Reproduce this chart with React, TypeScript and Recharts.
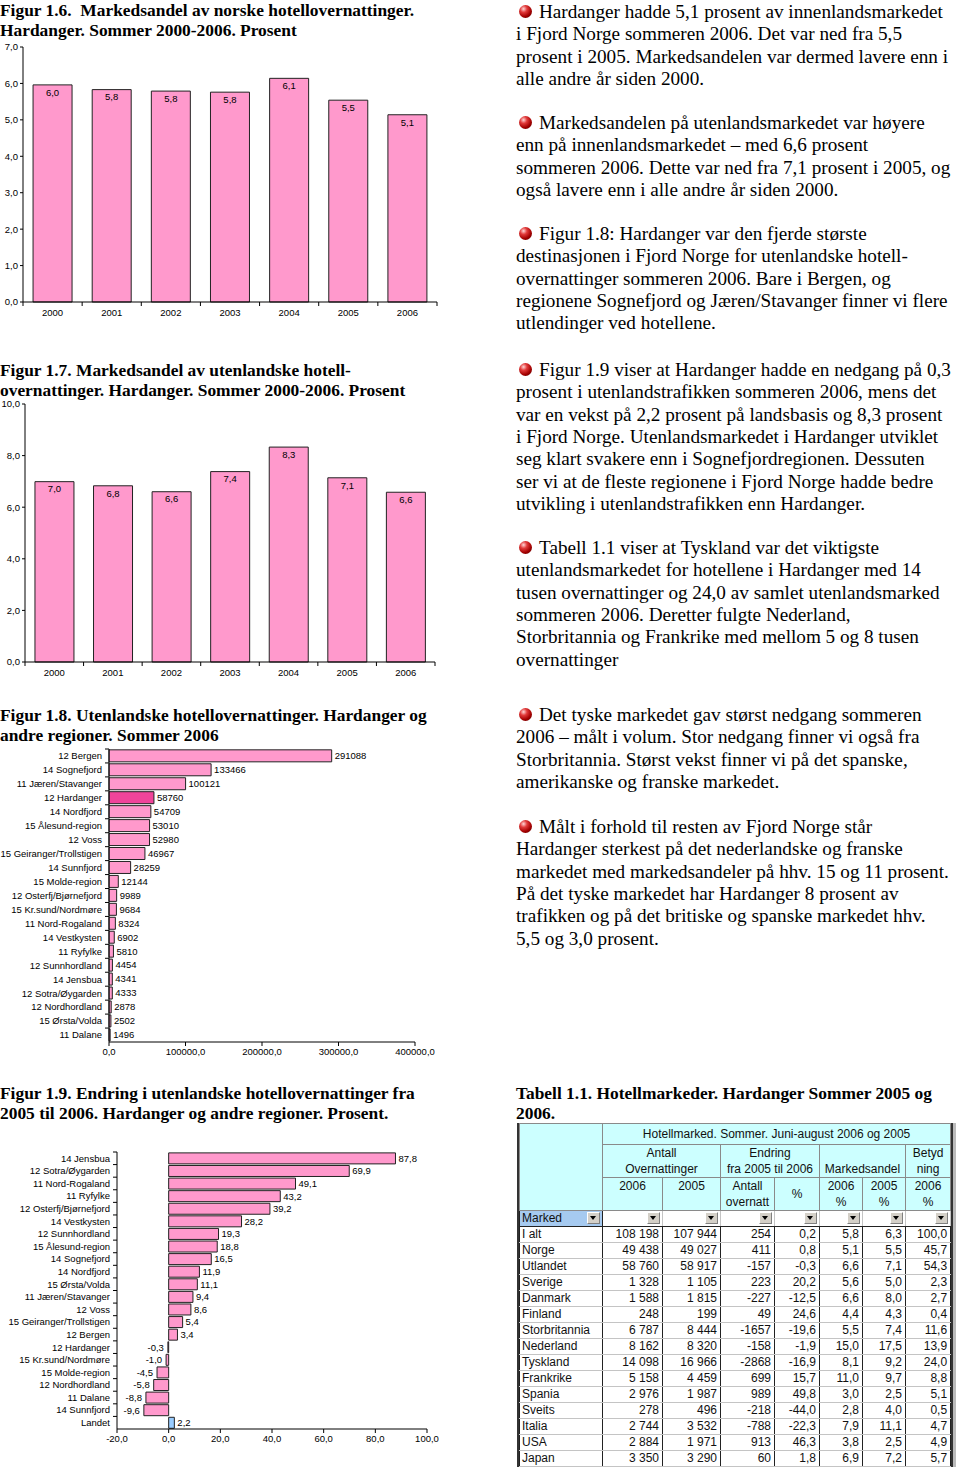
import React from "react";
import { BarChart, Bar, XAxis, YAxis, LabelList, Cell } from "recharts";

const SANS = "'Liberation Sans', Arial, sans-serif";
const SERIF = "'Liberation Serif', 'Times New Roman', serif";

// Figur 1.6 / 1.7
const years = ["2000", "2001", "2002", "2003", "2004", "2005", "2006"];
const norskShare = [5.96, 5.83, 5.79, 5.76, 6.14, 5.54, 5.14];
const utenlandskShare = [6.99, 6.83, 6.6, 7.38, 8.33, 7.14, 6.58];
const share16Ticks = [0, 1, 2, 3, 4, 5, 6, 7];
const share17Ticks = [0, 2, 4, 6, 8, 10];

// Figur 1.8
const regions18 = [
  "12 Bergen", "14 Sognefjord", "11 Jæren/Stavanger", "12 Hardanger", "14 Nordfjord",
  "15 Ålesund-region", "12 Voss", "15 Geiranger/Trollstigen", "14 Sunnfjord", "15 Molde-region",
  "12 Osterfj/Bjørnefjord", "15 Kr.sund/Nordmøre", "11 Nord-Rogaland", "14 Vestkysten", "11 Ryfylke",
  "12 Sunnhordland", "14 Jensbua", "12 Sotra/Øygarden", "12 Nordhordland", "15 Ørsta/Volda", "11 Dalane",
];
const nights18 = [
  291088, 133466, 100121, 58760, 54709, 53010, 52980, 46967, 28259, 12144,
  9989, 9684, 8324, 6902, 5810, 4454, 4341, 4333, 2878, 2502, 1496,
];
const nights18Ticks = [0, 100000, 200000, 300000, 400000];

// Figur 1.9
const regions19 = [
  "14 Jensbua", "12 Sotra/Øygarden", "11 Nord-Rogaland", "11 Ryfylke", "12 Osterfj/Bjørnefjord",
  "14 Vestkysten", "12 Sunnhordland", "15 Ålesund-region", "14 Sognefjord", "14 Nordfjord",
  "15 Ørsta/Volda", "11 Jæren/Stavanger", "12 Voss", "15 Geiranger/Trollstigen", "12 Bergen",
  "12 Hardanger", "15 Kr.sund/Nordmøre", "15 Molde-region", "12 Nordhordland", "11 Dalane",
  "14 Sunnfjord", "Landet",
];
const change19 = [
  87.8, 69.9, 49.1, 43.2, 39.2, 28.2, 19.3, 18.8, 16.5, 11.9, 11.1,
  9.4, 8.6, 5.4, 3.4, -0.3, -1.0, -4.5, -5.8, -8.8, -9.6, 2.2,
];
const change19Ticks = [-20, 0, 20, 40, 60, 80, 100];

// Tabell 1.1
const markets = [
  "I alt", "Norge", "Utlandet", "Sverige", "Danmark", "Finland", "Storbritannia", "Nederland",
  "Tyskland", "Frankrike", "Spania", "Sveits", "Italia", "USA", "Japan",
];
const nights2006 = [108198, 49438, 58760, 1328, 1588, 248, 6787, 8162, 14098, 5158, 2976, 278, 2744, 2884, 3350];
const nights2005 = [107944, 49027, 58917, 1105, 1815, 199, 8444, 8320, 16966, 4459, 1987, 496, 3532, 1971, 3290];
const changeAbs = [254, 411, -157, 223, -227, 49, -1657, -158, -2868, 699, 989, -218, -788, 913, 60];
const changePct = [0.2, 0.8, -0.3, 20.2, -12.5, 24.6, -19.6, -1.9, -16.9, 15.7, 49.8, -44.0, -22.3, 46.3, 1.8];
const share2006 = [5.8, 5.1, 6.6, 5.6, 6.6, 4.4, 5.5, 15.0, 8.1, 11.0, 3.0, 2.8, 7.9, 3.8, 6.9];
const share2005 = [6.3, 5.5, 7.1, 5.0, 8.0, 4.3, 7.4, 17.5, 9.2, 9.7, 2.5, 4.0, 11.1, 2.5, 7.2];
const weight2006 = [100.0, 45.7, 54.3, 2.3, 2.7, 0.4, 11.6, 13.9, 24.0, 8.8, 5.1, 0.5, 4.7, 4.9, 5.7];

// text column
const paragraphs = [
  { y: 12, lines: ["Hardanger hadde 5,1 prosent av innenlandsmarkedet", "i Fjord Norge sommeren 2006. Det var ned fra 5,5", "prosent i 2005. Markedsandelen var dermed lavere enn i", "alle andre år siden 2000."] },
  { y: 123, lines: ["Markedsandelen på utenlandsmarkedet var høyere", "enn på innenlandsmarkedet – med 6,6 prosent", "sommeren 2006. Dette var ned fra 7,1 prosent i 2005, og", "også lavere enn i alle andre år siden 2000."] },
  { y: 234, lines: ["Figur 1.8: Hardanger var den fjerde største", "destinasjonen i Fjord Norge for utenlandske hotell-", "overnattinger sommeren 2006. Bare i Bergen, og", "regionene Sognefjord og Jæren/Stavanger finner vi flere", "utlendinger ved hotellene."] },
  { y: 370, lines: ["Figur 1.9 viser at Hardanger hadde en nedgang på 0,3", "prosent i utenlandstrafikken sommeren 2006, mens det", "var en vekst på 2,2 prosent på landsbasis og 8,3 prosent", "i Fjord Norge. Utenlandsmarkedet i Hardanger utviklet", "seg klart svakere enn i Sognefjordregionen. Dessuten", "ser vi at de fleste regionene i Fjord Norge hadde bedre", "utvikling i utenlandstrafikken enn Hardanger."] },
  { y: 548, lines: ["Tabell 1.1 viser at Tyskland var det viktigste", "utenlandsmarkedet for hotellene i Hardanger med 14", "tusen overnattinger og 24,0 av samlet utenlandsmarked", "sommeren 2006. Deretter fulgte Nederland,", "Storbritannia og Frankrike med mellom 5 og 8 tusen", "overnattinger"] },
  { y: 715, lines: ["Det tyske markedet gav størst nedgang sommeren", "2006 – målt i volum. Stor nedgang finner vi også fra", "Storbritannia. Størst vekst finner vi på det spanske,", "amerikanske og franske markedet."] },
  { y: 827, lines: ["Målt i forhold til resten av Fjord Norge står", "Hardanger sterkest på det nederlandske og franske", "markedet med markedsandeler på hhv. 15 og 11 prosent.", "På det tyske markedet har Hardanger 8 prosent av", "trafikken og på det britiske og spanske markedet hhv.", "5,5 og 3,0 prosent."] },
];

const titles = [
  { x: 0, y: 0, lines: ["Figur 1.6.  Markedsandel av norske hotellovernattinger.", "Hardanger. Sommer 2000-2006. Prosent"] },
  { x: 0, y: 360, lines: ["Figur 1.7. Markedsandel av utenlandske hotell-", "overnattinger. Hardanger. Sommer 2000-2006. Prosent"] },
  { x: 0, y: 705, lines: ["Figur 1.8. Utenlandske hotellovernattinger. Hardanger og", "andre regioner. Sommer 2006"] },
  { x: 0, y: 1083, lines: ["Figur 1.9. Endring i utenlandske hotellovernattinger fra", "2005 til 2006. Hardanger og andre regioner. Prosent."] },
  { x: 516, y: 1083, lines: ["Tabell 1.1. Hotellmarkeder. Hardanger Sommer 2005 og", "2006."] },
];

const fmt = (v: number, d = 1) => v.toFixed(d).replace(".", ",");
const grp = (v: number) => String(v).replace(/\B(?=(\d{3})+(?!\d))/g, " ");

type Margin = { top: number; right: number; bottom: number; left: number };

function ColumnChart(props: {
  values: number[];
  top: number;
  width: number;
  height: number;
  margin: Margin;
  yWidth: number;
  xHeight: number;
  domain: [number, number];
  ticks: number[];
}) {
  const { values, top, width, height, margin, yWidth, xHeight, domain, ticks } = props;
  const data = years.map((name, i) => ({ name, value: values[i] }));
  const band = (width - margin.left - margin.right - yWidth) / data.length;

  const xTick = (p: any) => {
    const ay = p.y - 7;
    const bx = p.x - band / 2;
    return (
      <g>
        <line x1={bx} x2={bx} y1={ay} y2={ay + 4} stroke="#000" />
        {p.index === data.length - 1 && <line x1={bx + band} x2={bx + band} y1={ay} y2={ay + 4} stroke="#000" />}
        <text x={p.x} y={p.y} dy="0.71em" textAnchor="middle" fontSize={9.5} fill="#000" fontFamily={SANS}>
          {p.payload.value}
        </text>
      </g>
    );
  };

  return (
    <div style={{ position: "absolute", left: 0, top }}>
      <BarChart width={width} height={height} data={data} margin={margin} barCategoryGap="17%">
        <XAxis
          dataKey="name"
          height={xHeight}
          interval={0}
          tickLine={false}
          tickSize={4}
          tickMargin={3}
          tick={xTick}
          axisLine={{ stroke: "#000" }}
        />
        <YAxis
          width={yWidth}
          domain={domain}
          ticks={ticks}
          interval={0}
          tickFormatter={(v: number) => fmt(v)}
          tickSize={3}
          tickMargin={2}
          tick={{ fontSize: 9.5, fill: "#000", fontFamily: SANS }}
          axisLine={{ stroke: "#000" }}
          tickLine={{ stroke: "#000" }}
        />
        <Bar dataKey="value" fill="#ff99cc" stroke="#222" strokeWidth={1} isAnimationActive={false}>
          <LabelList
            dataKey="value"
            position="insideTop"
            offset={4}
            formatter={(v: any) => fmt(Number(v))}
            fontSize={9.5}
            fill="#000"
            fontFamily={SANS}
          />
        </Bar>
      </BarChart>
    </div>
  );
}

function catTick(band: number) {
  return (p: any) => {
    const ax = p.x + 7;
    const by = p.y - band / 2;
    return (
      <g>
        <line x1={ax - 4} x2={ax} y1={by} y2={by} stroke="#000" />
        <text x={p.x} y={p.y} dy="0.355em" textAnchor="end" fontSize={9.5} fill="#000" fontFamily={SANS}>
          {p.payload.value}
        </text>
      </g>
    );
  };
}

function NightsChart() {
  const data = regions18.map((name, i) => ({ name, value: nights18[i] }));
  const W = 440, H = 325;
  const m = { top: 7, right: 25, bottom: 0, left: 0 };
  const band = (H - m.top - m.bottom - 25) / data.length;
  return (
    <div style={{ position: "absolute", left: 0, top: 742 }}>
      <BarChart layout="vertical" width={W} height={H} data={data} margin={m} barCategoryGap="6%">
        <XAxis
          type="number"
          domain={[0, 400000]}
          ticks={nights18Ticks}
          interval={0}
          height={25}
          tickFormatter={(v: number) => fmt(v)}
          tickSize={4}
          tick={{ fontSize: 9.5, fill: "#000", fontFamily: SANS }}
          axisLine={{ stroke: "#000" }}
          tickLine={{ stroke: "#000" }}
        />
        <YAxis
          type="category"
          dataKey="name"
          width={109}
          interval={0}
          tickLine={false}
          tickSize={4}
          tickMargin={3}
          tick={catTick(band)}
          axisLine={{ stroke: "#000" }}
        />
        <Bar dataKey="value" stroke="#222" strokeWidth={1} isAnimationActive={false}>
          {data.map((d) => (
            <Cell key={d.name} fill={d.name === "12 Hardanger" ? "#f0449a" : "#ff99cc"} />
          ))}
          <LabelList dataKey="value" position="right" offset={3} fontSize={9.5} fill="#000" fontFamily={SANS} />
        </Bar>
      </BarChart>
    </div>
  );
}

const ChangeLabel = (p: any) => {
  const vb = p.viewBox && typeof p.viewBox.x === "number" ? p.viewBox : p;
  const x = Number(vb.x), w = Number(vb.width), y = Number(vb.y), h = Number(vb.height);
  const v = Number(p.value);
  const end = v >= 0 ? Math.max(x, x + w) : Math.min(x, x + w);
  return (
    <text
      x={v >= 0 ? end + 3 : end - 4}
      y={y + h / 2}
      dy="0.355em"
      textAnchor={v >= 0 ? "start" : "end"}
      fontSize={9.5}
      fill="#000"
      fontFamily={SANS}
    >
      {fmt(v)}
    </text>
  );
};

function ChangeChart() {
  const data = regions19.map((name, i) => ({ name, value: change19[i] }));
  const W = 440, H = 310;
  const m = { top: 7, right: 13, bottom: 0, left: 0 };
  const band = (H - m.top - m.bottom - 26) / data.length;
  return (
    <div style={{ position: "absolute", left: 0, top: 1145 }}>
      <BarChart layout="vertical" width={W} height={H} data={data} margin={m} barCategoryGap="7%">
        <XAxis
          type="number"
          domain={[-20, 100]}
          ticks={change19Ticks}
          interval={0}
          height={26}
          tickFormatter={(v: number) => fmt(v)}
          tickSize={4}
          tick={{ fontSize: 9.5, fill: "#000", fontFamily: SANS }}
          axisLine={{ stroke: "#000" }}
          tickLine={{ stroke: "#000" }}
        />
        <YAxis
          type="category"
          dataKey="name"
          width={117}
          interval={0}
          tickLine={false}
          tickSize={4}
          tickMargin={3}
          tick={catTick(band)}
          axisLine={{ stroke: "#000" }}
        />
        <Bar dataKey="value" stroke="#222" strokeWidth={1} isAnimationActive={false}>
          {data.map((d) => (
            <Cell key={d.name} fill={d.name === "Landet" ? "#99ccff" : "#ff99cc"} />
          ))}
          <LabelList dataKey="value" content={ChangeLabel} />
        </Bar>
      </BarChart>
    </div>
  );
}

const Bullet = ({ top }: { top: number }) => (
  <div
    style={{
      position: "absolute",
      left: 519,
      top,
      width: 13,
      height: 13,
      borderRadius: "50%",
      background: "radial-gradient(circle at 35% 30%, #ffd6d6 0%, #e23a3a 28%, #a30000 62%, #4a0000 100%)",
    }}
  />
);

const Drop = () => (
  <span
    style={{
      position: "absolute",
      right: 2,
      top: 1,
      width: 13,
      height: 12,
      background: "#d4d0c8",
      borderTop: "1px solid #fff",
      borderLeft: "1px solid #fff",
      borderRight: "1px solid #808080",
      borderBottom: "1px solid #808080",
      boxSizing: "border-box",
    }}
  >
    <span
      style={{
        position: "absolute",
        left: 2,
        top: 3,
        width: 0,
        height: 0,
        borderLeft: "3.5px solid transparent",
        borderRight: "3.5px solid transparent",
        borderTop: "4px solid #000",
      }}
    />
  </span>
);

function MarketTable() {
  const colW = [83, 60, 58, 54, 45, 43, 43, 45];
  const head: React.CSSProperties = {
    background: "#ccffff",
    border: "1px solid #8a8a8a",
    textAlign: "center",
    padding: 0,
    lineHeight: "16px",
    color: "#111",
  };
  const cell: React.CSSProperties = {
    borderLeft: "1px solid #222",
    borderRight: "1px solid #222",
    borderTop: "1px solid #c4c4c4",
    borderBottom: "1px solid #c4c4c4",
    textAlign: "right",
    padding: "0 3px 0 2px",
    height: 15,
    lineHeight: "15px",
    whiteSpace: "nowrap",
  };
  const cols = [
    nights2006.map(grp),
    nights2005.map(grp),
    changeAbs.map(String),
    changePct.map((v) => fmt(v)),
    share2006.map((v) => fmt(v)),
    share2005.map((v) => fmt(v)),
    weight2006.map((v) => fmt(v)),
  ];
  return (
    <div
      style={{
        position: "absolute",
        left: 517,
        top: 1123,
        borderLeft: "2px solid #333",
        borderRight: "2px solid #333",
        boxShadow: "3px 0 0 #bbb",
      }}
    >
      <table
        style={{
          borderCollapse: "collapse",
          tableLayout: "fixed",
          width: colW.reduce((a, b) => a + b, 0),
          fontFamily: SANS,
          fontSize: 12,
          color: "#111",
        }}
      >
        <colgroup>
          {colW.map((w, i) => (
            <col key={i} style={{ width: w }} />
          ))}
        </colgroup>
        <tbody>
          <tr style={{ height: 21 }}>
            <td rowSpan={3} style={head} />
            <td colSpan={7} style={head}>Hotellmarked. Sommer. Juni-august 2006 og 2005</td>
          </tr>
          <tr style={{ height: 33 }}>
            <td colSpan={2} style={head}>Antall<br />Overnattinger</td>
            <td colSpan={2} style={head}>Endring<br />fra 2005 til 2006</td>
            <td colSpan={2} style={{ ...head, verticalAlign: "bottom" }}>Markedsandel</td>
            <td style={head}>Betyd<br />ning</td>
          </tr>
          <tr style={{ height: 33 }}>
            <td style={{ ...head, verticalAlign: "top" }}>2006</td>
            <td style={{ ...head, verticalAlign: "top" }}>2005</td>
            <td style={head}>Antall<br />overnatt</td>
            <td style={head}>%</td>
            <td style={head}>2006<br />%</td>
            <td style={head}>2005<br />%</td>
            <td style={head}>2006<br />%</td>
          </tr>
          <tr style={{ height: 16 }}>
            <td style={{ ...cell, background: "#a6caf0", textAlign: "left", position: "relative", borderTop: "1px solid #222", borderBottom: "1px solid #222" }}>
              Marked
              <Drop />
            </td>
            {cols.map((_, i) => (
              <td key={i} style={{ ...cell, position: "relative", borderTop: "1px solid #8a8a8a", borderBottom: "1px solid #222", borderLeft: "1px solid #c4c4c4", borderRight: "1px solid #c4c4c4" }}>
                <Drop />
              </td>
            ))}
          </tr>
          {markets.map((mk, r) => (
            <tr key={mk} style={{ height: 16 }}>
              <td style={{ ...cell, textAlign: "left" }}>{mk}</td>
              {cols.map((c, i) => (
                <td key={i} style={cell}>{c[r]}</td>
              ))}
            </tr>
          ))}
        </tbody>
      </table>
    </div>
  );
}

export default function App() {
  const LH = 22.35;
  return (
    <div
      style={{
        position: "absolute",
        left: 0,
        top: 0,
        width: 960,
        height: 1473,
        background: "#fff",
        overflow: "hidden",
        color: "#000",
      }}
    >
      {titles.map((t) =>
        t.lines.map((line, i) => (
          <div
            key={t.y + "-" + i + "-" + t.x}
            style={{
              position: "absolute",
              left: t.x,
              top: t.y + i * 20,
              lineHeight: "20px",
              fontFamily: SERIF,
              fontWeight: "bold",
              fontSize: 17.4,
              whiteSpace: "pre",
            }}
          >
            {line}
          </div>
        ))
      )}

      {paragraphs.map((p) => (
        <React.Fragment key={p.y}>
          <Bullet top={p.y - 7} />
          {p.lines.map((line, i) => (
            <div
              key={i}
              style={{
                position: "absolute",
                left: i === 0 ? 539 : 516,
                top: p.y + i * LH - LH / 2,
                lineHeight: LH + "px",
                fontFamily: SERIF,
                fontSize: 19.2,
                whiteSpace: "pre",
              }}
            >
              {line}
            </div>
          ))}
        </React.Fragment>
      ))}

      <ColumnChart
        values={norskShare}
        top={40}
        width={445}
        height={285}
        margin={{ top: 7, right: 8, bottom: 3, left: 0 }}
        yWidth={23}
        xHeight={20}
        domain={[0, 7]}
        ticks={share16Ticks}
      />
      <ColumnChart
        values={utenlandskShare}
        top={395}
        width={445}
        height={290}
        margin={{ top: 9, right: 10, bottom: 3, left: 0 }}
        yWidth={25}
        xHeight={20}
        domain={[0, 10]}
        ticks={share17Ticks}
      />
      <NightsChart />
      <ChangeChart />
      <MarketTable />
    </div>
  );
}
